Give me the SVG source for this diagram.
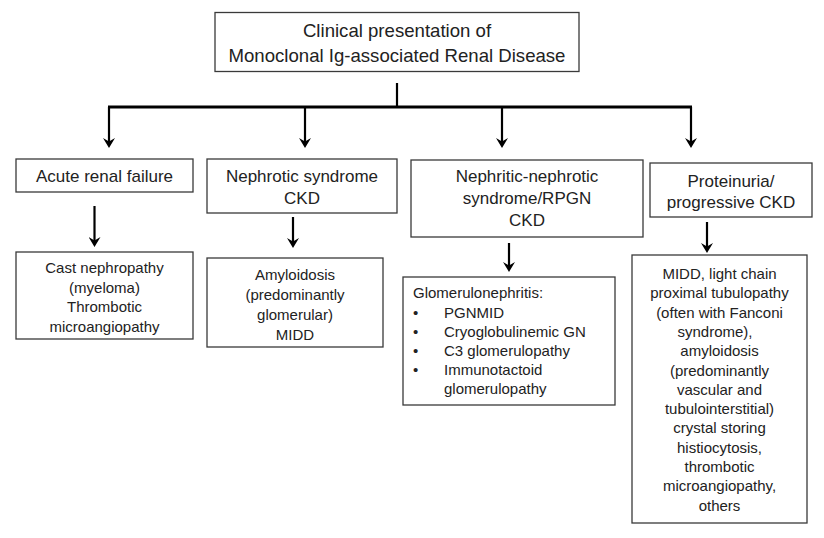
<svg xmlns="http://www.w3.org/2000/svg" width="824" height="538" viewBox="0 0 824 538">
<defs>
<marker id="ah" viewBox="0 0 12 10" refX="6" refY="5" markerWidth="12" markerHeight="10" markerUnits="userSpaceOnUse" orient="0">
<path d="M0,0 L6,10 L12,0 L6,3.5 Z" fill="#000"/>
</marker>
</defs>
<style>
rect{fill:#fff;stroke:#3a3a3a;stroke-width:1.3}
text{font-family:"Liberation Sans",Arial,sans-serif;fill:#222;text-anchor:middle}
.t{font-size:18.6px}
.h{font-size:17px}
.b{font-size:15px}
.l{text-anchor:start}
.c{fill:none;stroke:#000;stroke-width:2.2}
.a{fill:none;stroke:#000;stroke-width:2.2;marker-end:url(#ah)}
</style>
<rect width="824" height="538" style="fill:#fff;stroke:none"/>
<g id="title">
<rect x="215" y="12.5" width="364" height="59"/>
<text class="t" x="397" y="37">Clinical presentation of</text>
<text class="t" x="397" y="62">Monoclonal Ig-associated Renal Disease</text>
</g>
<g id="connectors">
<path class="c" d="M397,83 V107"/>
<path class="c" d="M108,107 H692" style="stroke-width:3"/>
<path class="a" d="M109,107 V143"/>
<path class="a" d="M305,107 V143"/>
<path class="a" d="M502,107 V143"/>
<path class="a" d="M691,107 V143"/>
<path class="a" d="M94.5,206 V242"/>
<path class="a" d="M293,217 V243"/>
<path class="a" d="M509,243 V267"/>
<path class="a" d="M707,222 V248"/>
</g>
<g id="acute">
<rect x="16" y="159" width="177" height="33"/>
<text class="h" x="104.5" y="182">Acute renal failure</text>
</g>
<g id="acute-detail">
<rect x="16" y="252" width="177" height="87"/>
<text class="b" x="104.5" y="273">Cast nephropathy</text>
<text class="b" x="104.5" y="292.5">(myeloma)</text>
<text class="b" x="104.5" y="312">Thrombotic</text>
<text class="b" x="104.5" y="331.5">microangiopathy</text>
</g>
<g id="nephrotic">
<rect x="207" y="159" width="190" height="54"/>
<text class="h" x="302" y="182">Nephrotic syndrome</text>
<text class="h" x="302" y="204">CKD</text>
</g>
<g id="nephrotic-detail">
<rect x="207" y="258" width="176" height="89"/>
<text class="b" x="295" y="280">Amyloidosis</text>
<text class="b" x="295" y="300">(predominantly</text>
<text class="b" x="295" y="320">glomerular)</text>
<text class="b" x="295" y="340">MIDD</text>
</g>
<g id="nephritic">
<rect x="411" y="160" width="232" height="77"/>
<text class="h" x="527" y="182">Nephritic-nephrotic</text>
<text class="h" x="527" y="204">syndrome/RPGN</text>
<text class="h" x="527" y="226">CKD</text>
</g>
<g id="nephritic-detail">
<rect x="403" y="277" width="212" height="128"/>
<text class="b l" x="413" y="298">Glomerulonephritis:</text>
<text class="b l" x="413" y="318">•</text>
<text class="b l" x="444" y="318">PGNMID</text>
<text class="b l" x="413" y="337">•</text>
<text class="b l" x="444" y="337">Cryoglobulinemic GN</text>
<text class="b l" x="413" y="355.5">•</text>
<text class="b l" x="444" y="355.5">C3 glomerulopathy</text>
<text class="b l" x="413" y="374.5">•</text>
<text class="b l" x="444" y="374.5">Immunotactoid</text>
<text class="b l" x="444" y="393.5">glomerulopathy</text>
</g>
<g id="proteinuria">
<rect x="650" y="163" width="162" height="54"/>
<text class="h" x="731" y="187">Proteinuria/</text>
<text class="h" x="731" y="208">progressive CKD</text>
</g>
<g id="proteinuria-detail">
<rect x="632" y="255" width="175" height="268"/>
<text class="b" x="719.5" y="279">MIDD, light chain</text>
<text class="b" x="719.5" y="298.3">proximal tubulopathy</text>
<text class="b" x="719.5" y="317.6">(often with Fanconi</text>
<text class="b" x="715" y="336.9">syndrome),</text>
<text class="b" x="719.5" y="356.2">amyloidosis</text>
<text class="b" x="719.5" y="375.5">(predominantly</text>
<text class="b" x="719.5" y="394.8">vascular and</text>
<text class="b" x="719.5" y="414.1">tubulointerstitial)</text>
<text class="b" x="719.5" y="433.4">crystal storing</text>
<text class="b" x="719.5" y="452.7">histiocytosis,</text>
<text class="b" x="719.5" y="472">thrombotic</text>
<text class="b" x="719.5" y="491.3">microangiopathy,</text>
<text class="b" x="719.5" y="510.6">others</text>
</g>
</svg>
